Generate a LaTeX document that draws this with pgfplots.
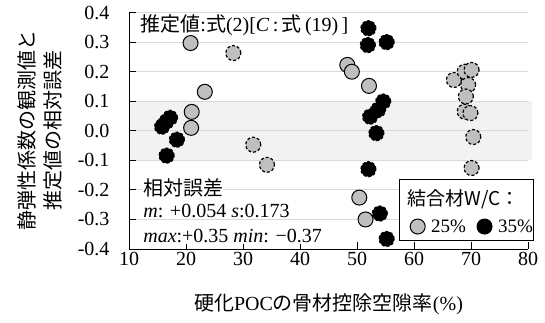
\documentclass[border=0pt]{standalone}
\usepackage{fontspec}
\setmainfont{Liberation Serif}
\newfontfamily\cjk{Noto Sans CJK JP}
\usepackage{pgfplots}
\pgfplotsset{compat=1.18}
\definecolor{markgray}{HTML}{BFBFBF}
\definecolor{bandgray}{HTML}{F2F2F2}
\definecolor{gridgray}{HTML}{D9D9D9}
\begin{document}
\begin{tikzpicture}
\begin{axis}[
  set layers=standard,
  at={(0pt,0pt)}, anchor=south west,
  scale only axis, width=399pt, height=236.4pt,
  xmin=10, xmax=80, ymin=-0.4, ymax=0.4,
  clip=false,
  axis x line*=bottom, axis y line*=left,
  tick pos=left, tick align=inside,
  major tick length=7pt,
  xtick={10,20,30,40,50,60,70,80},
  xticklabels={10,20,30,40,50,60,70,80},
  ytick={-0.4,-0.3,-0.2,-0.1,0,0.1,0.2,0.3,0.4},
  yticklabels={-0.4,-0.3,-0.2,-0.1,0.0,0.1,0.2,0.3,0.4},
  ymajorgrids, grid style={gridgray, line width=1pt},
  axis line style={black, line width=1pt},
  tick style={black, line width=1pt},
  ticklabel style={font=\fontsize{20}{24}\selectfont},
  yticklabel style={xshift=-16pt},
  xlabel={{\cjk 硬化}POC{\cjk の骨材控除空隙率}(\%)},
  xlabel style={at={(axis description cs:0.5,-0.2326)}, anchor=center, font=\fontsize{20}{24}\selectfont},
  ylabel={{\cjk 静弾性係数の観測値と}\\{\cjk 推定値の相対誤差}},
  ylabel style={at={(axis description cs:-0.166,0.5)}, anchor=south, align=center, inner sep=0pt, font=\fontsize{20}{26}\selectfont},
  legend style={at={(axis cs:59.3,-0.324)}, anchor=west, draw=none, fill=none,
    font=\fontsize{19}{23}\selectfont, inner sep=0pt,
    /tikz/every odd column/.append style={column sep=4pt},
    /tikz/every even column/.append style={column sep=9pt}},
  legend columns=2,
]
\addlegendimage{only marks, mark=*, mark size=7.5pt, mark options={fill=markgray, draw=black, solid, line width=1pt}}
\addlegendentry{25\%}
\addlegendimage{only marks, mark=*, mark size=7.5pt, mark options={fill=black, draw=black, solid, line width=1pt}}
\addlegendentry{35\%}

\begin{pgfonlayer}{axis background}
\fill[bandgray] (axis cs:10,-0.1) rectangle (axis cs:80.7,0.1);
\end{pgfonlayer}

% W/C 25%, solid edge
\addplot[forget plot, only marks, mark=*, mark size=7.5pt, mark options={fill=markgray, draw=black, solid, line width=1pt}]
coordinates {(20.8,0.297) (23.3,0.132) (21.0,0.064) (20.9,0.010) (48.3,0.223) (49.1,0.200) (52.1,0.152) (50.4,-0.226) (51.5,-0.300)};
% W/C 25%, dashed edge
\addplot[forget plot, only marks, mark=*, mark size=7.5pt, mark options={fill=markgray, draw=black, dash pattern=on 3pt off 2pt, line width=1.2pt}]
coordinates {(28.3,0.263) (31.8,-0.047) (34.2,-0.115) (67.0,0.172) (68.9,0.200) (70.1,0.206) (69.5,0.155) (69.1,0.116) (68.9,0.065) (69.9,0.060) (70.4,-0.021) (70.1,-0.126)};
% W/C 35%
\addplot[forget plot, only marks, mark=*, mark size=7.5pt, mark options={fill=black, draw=black, dash pattern=on 3pt off 2pt, line width=1.2pt}]
coordinates {(15.8,0.014) (16.5,0.030) (17.2,0.044) (18.4,-0.030) (16.6,-0.084)
 (52.0,0.347) (51.9,0.290) (55.2,0.300) (54.6,0.099) (53.7,0.071) (52.3,0.048) (53.4,-0.008) (52.0,-0.130) (54.0,-0.280) (55.2,-0.366)};

\node[anchor=west, fill=white, inner sep=1pt, font=\fontsize{20}{24}\selectfont] at (axis cs:11.8,0.358)
  {{\cjk 推定値}:{\cjk 式}(2)[\textit{C}\,:\,{\cjk 式}\,(19)\,]};
\node[anchor=west, fill=white, inner sep=1pt, font=\fontsize{20}{24}\selectfont] at (axis cs:12.3,-0.193) {{\cjk 相対誤差}};
\node[anchor=west, fill=white, inner sep=1pt, font=\fontsize{20}{24}\selectfont] at (axis cs:12.3,-0.272) {\textit{m}: +0.054 \textit{s}:0.173};
\node[anchor=west, fill=white, inner sep=1pt, font=\fontsize{20}{24}\selectfont] at (axis cs:12.3,-0.357) {\textit{max}:+0.35 \textit{min}: −0.37};

\draw[fill=white, line width=1pt] (axis cs:57.5,-0.3706) rectangle (axis cs:81.0,-0.1655);
\node[anchor=west, inner sep=0pt, font=\fontsize{19}{23}\selectfont] at (axis cs:58.9,-0.233) {{\cjk 結合材W/C：}};
\end{axis}
\path[use as bounding box] (-129pt,-73pt) rectangle (416pt,249pt);
\end{tikzpicture}
\end{document}
